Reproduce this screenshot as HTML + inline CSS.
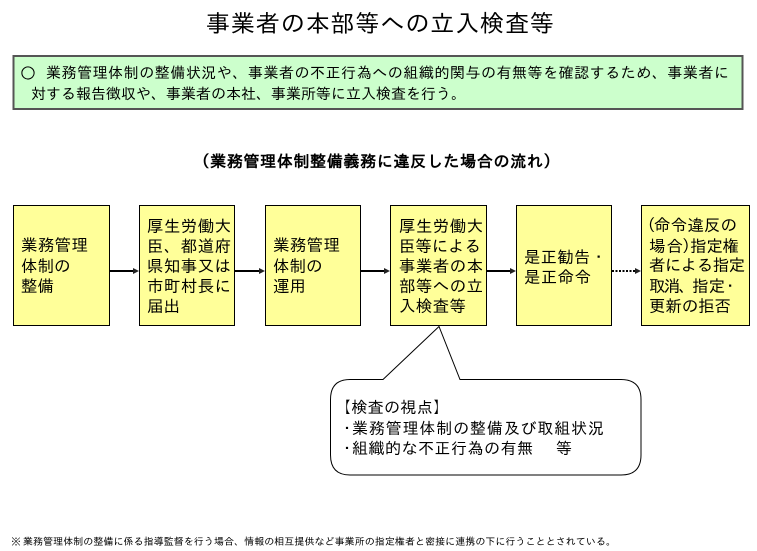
<!DOCTYPE html>
<html lang="ja"><head><meta charset="utf-8"><style>
html,body{margin:0;padding:0;background:#fff}
svg{display:block}
text{font-family:"IPAGothic","Noto Sans CJK JP",sans-serif;fill:#000}
</style></head><body>
<svg width="757" height="551" viewBox="0 0 757 551" xmlns="http://www.w3.org/2000/svg">
<rect width="757" height="551" fill="#fff"/>
<text x="206" y="32" font-size="24" textLength="348">事業者の本部等への立入検査等</text>
<rect x="13.500" y="56" width="729" height="53" fill="#CCFFCC" stroke="#555" stroke-width="2"/>
<text x="20" y="79" font-size="16">○</text>
<text x="46" y="78" font-size="15" textLength="683">業務管理体制の整備状況や、事業者の不正行為への組織的関与の有無等を確認するため、事業者に</text>
<text x="31" y="99" font-size="15" textLength="435">対する報告徴収や、事業者の本社、事業所等に立入検査を行う。</text>
<text x="193.500" y="167" font-size="16" font-weight="bold" textLength="366">（業務管理体制整備義務に違反した場合の流れ）</text>
<g fill="#FFFF99" stroke="#000" stroke-width="1">
<rect x="13.500" y="205.500" width="96" height="120"/>
<rect x="139.500" y="205.500" width="95" height="120"/>
<rect x="265.500" y="205.500" width="95" height="120"/>
<rect x="390.500" y="205.500" width="96" height="120"/>
<rect x="516.500" y="205.500" width="95" height="120"/>
<rect x="641.500" y="205.500" width="108" height="120"/>
</g>
<g font-size="16.500">
<text x="21" y="251" textLength="67">業務管理</text><text x="21" y="272">体制の</text><text x="21" y="292">整備</text>
<text x="147" y="232" textLength="84">厚生労働大</text><text x="147" y="252" textLength="84">臣、都道府</text><text x="147" y="272" textLength="84">県知事又は</text><text x="147" y="292" textLength="84">市町村長に</text><text x="147" y="312">届出</text>
<text x="273" y="251" textLength="67">業務管理</text><text x="273" y="272">体制の</text><text x="273" y="292">運用</text>
<text x="399" y="232" textLength="84">厚生労働大</text><text x="399" y="252" textLength="82">臣等による</text><text x="399" y="272" textLength="84">事業者の本</text><text x="399" y="292" textLength="84">部等への立</text><text x="399" y="312" textLength="67">入検査等</text>
<text x="524" y="263" textLength="83">是正勧告・</text><text x="524" y="283" textLength="67">是正命令</text>
<text x="639" y="231">（</text><text x="654" y="231" textLength="83">命令違反の</text>
<text x="649" y="252" textLength="34">場合</text><text x="682" y="252">）</text><text x="690" y="252" textLength="49">指定権</text>
<text x="649" y="271" textLength="96">者による指定</text>
<text x="649" y="292" textLength="46">取消、</text><text x="692" y="292" textLength="33">指定</text><text x="722" y="292">・</text>
<text x="649" y="312" textLength="82">更新の拒否</text>
</g>
<g stroke="#000" stroke-width="2">
<line x1="110" y1="271" x2="134" y2="271"/>
<line x1="235" y1="271" x2="260" y2="271"/>
<line x1="361" y1="271" x2="386" y2="271"/>
<line x1="487" y1="271" x2="512" y2="271"/>
<line x1="612" y1="271" x2="636" y2="271" stroke-dasharray="2 1.500"/>
</g>
<g fill="#222">
<path d="M139 271l-6-3v6z"/><path d="M265 271l-6-3v6z"/><path d="M390 271l-6-3v6z"/><path d="M516 271l-6-3v6z"/><path d="M641 271l-6-3v6z"/>
</g>
<path d="M383 379.500L439 326.500L460 379.500H621Q641 379.500 641 399.500V455Q641 475 621 475H350Q330.500 475 330.500 455V399.500Q330.500 379.500 350 379.500Z" fill="#fff" stroke="#000" stroke-width="1"/>
<g font-size="16">
<text x="335" y="413" textLength="114">【検査の視点】</text>
<text x="339" y="434">・</text><text x="352" y="434" textLength="252">業務管理体制の整備及び取組状況</text>
<text x="339" y="454">・</text><text x="352" y="454" textLength="181">組織的な不正行為の有無</text><text x="556" y="454">等</text>
</g>
<text x="11" y="545" font-size="10">※</text>
<text x="23" y="545" font-size="10" textLength="593">業務管理体制の整備に係る指導監督を行う場合、情報の相互提供など事業所の指定権者と密接に連携の下に行うこととされている。</text>
</svg>
</body></html>
